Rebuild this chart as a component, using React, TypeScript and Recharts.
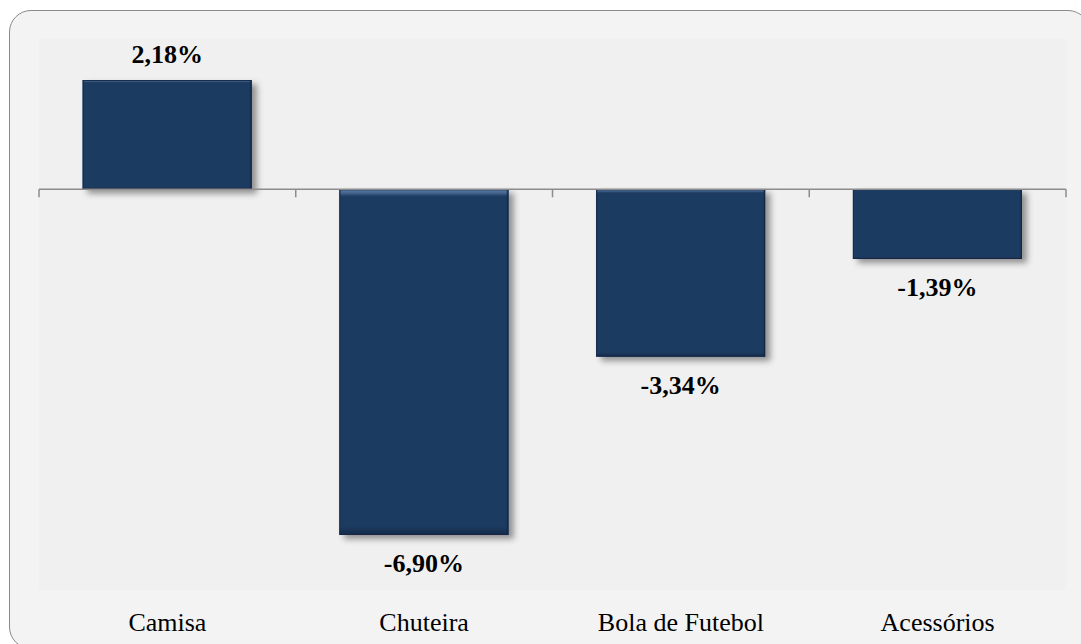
import React from 'react';
import {
  Bar,
  BarChart,
  CartesianGrid,
  LabelList,
  ReferenceLine,
  XAxis,
  YAxis,
} from 'recharts';

// variação por categoria (%)
const CATEGORIES = ['Camisa', 'Chuteira', 'Bola de Futebol', 'Acessórios'];
const VARIATION = [2.18, -6.9, -3.34, -1.39];

const Y_DOMAIN: [number, number] = [-8, 3];

const BAR_COLOR = '#1e3a60';
const AXIS_COLOR = '#8c8c8c';
const SERIF = '"Liberation Serif", "Times New Roman", serif';

const data = CATEGORIES.map((name, i) => ({ name, value: VARIATION[i] }));

const formatPct = (v: number) => v.toFixed(2).replace('.', ',') + '%';

// barra com chanfro (realce em cima, borda escura embaixo) e sombra
function BevelBar(props: any) {
  const { x, y, width, height } = props;
  if (width == null || height == null) return null;
  const top = Math.min(y, y + height);
  const h = Math.abs(height);
  return (
    <g filter="url(#barShadow)">
      <rect x={x} y={top} width={width} height={h} fill={BAR_COLOR} />
      <rect x={x} y={top} width={width} height={h} fill="url(#bevelV)" />
      <rect x={x} y={top} width={width} height={h} fill="url(#bevelH)" />
      <rect
        x={x + 0.5}
        y={top + 0.5}
        width={width - 1}
        height={h - 1}
        fill="none"
        stroke="#142844"
        strokeWidth={1}
      />
    </g>
  );
}

function ValueLabel(props: any) {
  const { x, y, width, height, value } = props;
  const top = Math.min(y, y + height);
  const bottom = Math.max(y, y + height);
  const cx = x + width / 2;
  const ty = value < 0 ? bottom + 37 : top - 17;
  return (
    <text
      x={cx}
      y={ty}
      textAnchor="middle"
      fontFamily={SERIF}
      fontWeight="bold"
      fontSize={26}
      fill="#000"
    >
      {formatPct(value)}
    </text>
  );
}

// linha do zero com marcas entre as categorias
function ZeroAxis(props: any) {
  const { x1, x2, y1 } = props;
  if (x1 == null) return null;
  const step = (x2 - x1) / CATEGORIES.length;
  const ticks = CATEGORIES.map((_, i) => x1 + step * i).concat([x2]);
  return (
    <g stroke={AXIS_COLOR} strokeWidth={1.5}>
      <line x1={x1} y1={y1} x2={x2} y2={y1} />
      {ticks.map((tx, i) => (
        <line key={i} x1={tx} y1={y1} x2={tx} y2={y1 + 8} />
      ))}
    </g>
  );
}

function CategoryTick(props: any) {
  const { x, y, payload } = props;
  return (
    <text
      x={x}
      y={y + 33}
      textAnchor="middle"
      fontFamily={SERIF}
      fontSize={26}
      fill="#000"
    >
      {payload.value}
    </text>
  );
}

export default function App() {
  return (
    <div
      style={{
        position: 'fixed',
        top: 0,
        left: 0,
        width: 1081,
        height: 644,
        overflow: 'hidden',
        background: '#ffffff',
      }}
    >
      <div
        style={{
          position: 'absolute',
          left: 9,
          top: 10,
          width: 1081,
          height: 639,
          boxSizing: 'border-box',
          border: '1.5px solid #8a8a8a',
          borderRadius: 22,
          background: '#f3f3f3',
        }}
      />
      <div style={{ position: 'absolute', left: 0, top: 0 }}>
        <BarChart
          width={1081}
          height={644}
          data={data}
          margin={{ top: 39, right: 15, bottom: 0, left: 39 }}
          barCategoryGap="17%"
        >
          <defs>
            <filter id="barShadow" x="-20%" y="-20%" width="140%" height="140%">
              <feDropShadow
                dx={5}
                dy={4}
                stdDeviation={3}
                floodColor="#000"
                floodOpacity={0.4}
              />
            </filter>
            <linearGradient id="bevelV" x1="0" y1="0" x2="0" y2="1">
              <stop offset="0" stopColor="#6a8bb5" stopOpacity={0.9} />
              <stop offset="0.012" stopColor="#5a7ca8" stopOpacity={0.6} />
              <stop offset="0.025" stopColor="#1e3a60" stopOpacity={0} />
              <stop offset="0.975" stopColor="#0f2340" stopOpacity={0} />
              <stop offset="1" stopColor="#0f2340" stopOpacity={0.7} />
            </linearGradient>
            <linearGradient id="bevelH" x1="0" y1="0" x2="1" y2="0">
              <stop offset="0" stopColor="#3d5c86" stopOpacity={0.5} />
              <stop offset="0.012" stopColor="#1e3a60" stopOpacity={0} />
              <stop offset="0.985" stopColor="#0f2340" stopOpacity={0} />
              <stop offset="1" stopColor="#0f2340" stopOpacity={0.7} />
            </linearGradient>
          </defs>
          <CartesianGrid
            horizontal={false}
            vertical={false}
            fill="#f0f0f0"
            stroke="none"
          />
          <XAxis
            dataKey="name"
            height={54}
            axisLine={false}
            tickLine={false}
            interval={0}
            tick={<CategoryTick />}
          />
          <YAxis hide domain={Y_DOMAIN} width={0} />
          <ReferenceLine y={0} shape={<ZeroAxis />} />
          <Bar
            dataKey="value"
            shape={<BevelBar />}
            isAnimationActive={false}
          >
            <LabelList dataKey="value" content={<ValueLabel />} />
          </Bar>
        </BarChart>
      </div>
    </div>
  );
}
